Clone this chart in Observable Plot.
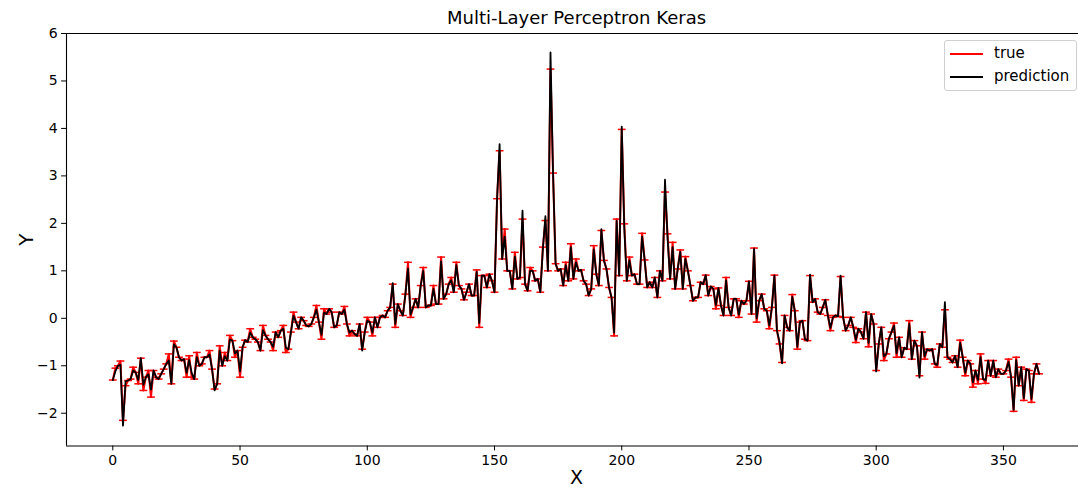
<!DOCTYPE html>
<html>
<head>
<meta charset="utf-8">
<script src="https://cdn.jsdelivr.net/npm/d3@7"></script>
<script src="https://cdn.jsdelivr.net/npm/@observablehq/plot@0.6"></script>
<style>
  html, body { margin: 0; padding: 0; background: #fff; }
  #wrap { position: relative; width: 1078px; height: 489px; font-family: "DejaVu Sans", sans-serif; }
  #legend { position: absolute; left: 944px; top: 40px; width: 131px; height: 49px;
    border: 1px solid #d0d0d0; border-radius: 3px; background: rgba(255,255,255,0.85);
    font-size: 15px; color: #000; box-sizing: content-box; }
  .row { height: 23px; line-height: 23px; display: flex; align-items: center; }
  .row:first-child { margin-top: 1px; }
  .sw { width: 33px; height: 2px; margin-left: 5px; margin-right: 11px; }
</style>
</head>
<body>
<div id="wrap">
  <div id="chart"></div>
  <div id="legend">
    <div class="row"><span class="sw" style="background:red"></span><span>true</span></div>
    <div class="row"><span class="sw" style="background:black"></span><span>prediction</span></div>
  </div>
</div>
<script>
const title = "Multi-Layer Perceptron Keras";
const xLabel = "X";
const yLabel = "Y";
const xTicks = [0, 50, 100, 150, 200, 250, 300, 350];
const yTicks = [-2, -1, 0, 1, 2, 3, 4, 5, 6];

// observed ("true") values, one per x = 0..364
const trueY = [
-1.30,-1.05,-1.00,-0.90,-2.15,-1.42,-1.31,-1.28,-1.03,-1.14,
-1.38,-0.84,-1.52,-1.24,-1.10,-1.66,-1.10,-1.24,-1.28,-1.17,
-1.07,-0.96,-0.75,-1.38,-0.48,-0.61,-0.82,-0.89,-0.86,-1.24,
-0.79,-1.24,-1.28,-0.72,-1.00,-0.96,-0.82,-0.82,-0.68,-1.07,
-1.49,-1.38,-0.58,-1.00,-0.72,-0.89,-0.36,-0.47,-0.82,-0.68,
-1.24,-0.61,-0.46,-0.50,-0.22,-0.40,-0.44,-0.50,-0.68,-0.15,
-0.36,-0.44,-0.50,-0.68,-0.29,-0.40,-0.26,-0.15,-0.72,-0.65,
-0.29,0.13,-0.08,-0.22,0.02,-0.05,-0.15,-0.17,-0.12,0.02,
0.27,-0.08,-0.44,0.20,0.09,0.20,0.13,-0.19,-0.15,0.13,
0.09,0.25,-0.12,-0.37,-0.26,-0.33,-0.37,-0.12,-0.65,-0.29,
0.02,-0.08,-0.37,0.02,-0.19,0.02,0.06,0.02,0.16,0.23,
0.72,-0.19,0.30,0.16,0.06,0.51,1.18,0.02,0.23,0.41,
0.23,0.69,1.07,0.23,0.27,0.27,0.69,0.30,0.30,1.29,
0.41,0.51,0.72,0.86,0.55,1.18,0.69,0.62,0.39,0.55,
0.72,0.48,0.48,1.02,-0.19,0.90,0.90,0.65,0.93,0.79,
0.55,2.52,3.53,1.25,1.88,1.00,1.00,0.62,1.39,0.83,
0.86,2.09,0.72,0.58,1.07,1.00,0.79,0.83,0.55,1.50,
2.06,1.00,5.25,3.06,1.15,1.00,1.04,0.69,1.18,0.79,
1.57,0.83,1.25,1.00,1.02,0.79,0.72,0.48,0.62,1.53,
0.93,0.69,1.85,1.22,1.04,0.65,0.44,-0.37,2.09,0.90,
3.98,1.99,0.79,1.29,0.90,0.93,0.72,0.72,1.79,1.23,
0.65,0.76,0.65,0.86,0.44,1.00,0.79,2.66,1.78,0.83,
1.60,0.62,1.04,1.44,0.62,1.30,1.00,0.69,0.37,0.44,
0.44,0.76,0.72,0.91,0.48,0.67,0.62,0.20,0.64,0.27,
0.06,0.86,0.23,0.06,0.41,0.41,0.02,0.37,0.30,0.37,
0.78,0.09,1.48,-0.08,0.37,0.51,0.20,0.16,-0.22,0.23,
0.91,-0.26,-0.54,-0.93,0.06,-0.19,-0.26,0.50,0.16,-0.65,
-0.08,-0.05,-0.44,-0.47,0.90,0.34,0.41,0.13,0.09,0.23,
0.39,0.06,-0.26,0.02,0.06,0.04,0.88,0.02,-0.26,-0.15,
0.02,-0.19,-0.51,-0.22,-0.29,-0.43,0.13,-0.60,0.09,-0.12,
-1.10,-0.54,-0.19,-0.89,-0.75,-0.43,-0.29,-0.10,-0.82,-0.40,
-0.82,-0.62,-0.65,-0.05,-0.86,-0.47,-0.58,-1.21,-0.29,-0.86,
-0.65,-0.68,-0.65,-0.96,-1.03,-0.54,-0.61,0.18,-0.82,-0.86,
-0.93,-0.79,-1.03,-0.46,-0.82,-1.21,-0.89,-0.96,-1.45,-1.10,
-1.38,-0.75,-1.28,-1.37,-0.89,-1.21,-0.89,-1.24,-1.07,-1.17,
-1.17,-1.10,-0.86,-1.24,-1.96,-0.82,-1.42,-1.03,-1.73,-1.07,
-1.10,-1.77,-1.17,-0.96,-1.17
];

// model predictions, one per x = 0..364
const predY = [
-1.30,-1.12,-1.00,-0.98,-2.26,-1.33,-1.31,-1.28,-1.10,-1.14,
-1.30,-0.84,-1.40,-1.24,-1.18,-1.50,-1.10,-1.24,-1.28,-1.17,
-1.07,-0.96,-0.89,-1.38,-0.55,-0.61,-0.82,-0.89,-0.86,-1.15,
-0.88,-1.15,-1.28,-0.82,-1.00,-0.96,-0.82,-0.82,-0.76,-1.07,
-1.52,-1.38,-0.68,-1.00,-0.80,-0.89,-0.45,-0.47,-0.74,-0.68,
-1.12,-0.61,-0.46,-0.50,-0.30,-0.40,-0.44,-0.50,-0.68,-0.25,
-0.36,-0.44,-0.50,-0.60,-0.29,-0.40,-0.26,-0.22,-0.62,-0.65,
-0.29,0.05,-0.08,-0.22,0.02,-0.05,-0.15,-0.17,-0.12,0.02,
0.18,-0.08,-0.35,0.12,0.09,0.20,0.13,-0.19,-0.15,0.13,
0.09,0.18,-0.12,-0.30,-0.26,-0.33,-0.37,-0.12,-0.68,-0.29,
-0.05,-0.08,-0.30,0.02,-0.19,0.02,0.06,0.02,0.16,0.23,
0.74,-0.12,0.30,0.16,0.06,0.51,1.05,0.08,0.23,0.41,
0.23,0.69,1.00,0.23,0.27,0.27,0.62,0.30,0.30,1.20,
0.41,0.51,0.72,0.80,0.55,1.12,0.69,0.62,0.39,0.55,
0.72,0.48,0.48,0.98,-0.10,0.90,0.90,0.65,0.93,0.79,
0.55,2.50,3.67,1.25,1.72,1.00,1.00,0.62,1.30,0.83,
0.86,2.27,0.72,0.58,1.00,1.00,0.79,0.83,0.55,1.45,
2.15,1.00,5.60,3.06,1.15,1.00,1.04,0.69,1.12,0.79,
1.50,0.83,1.18,1.00,1.02,0.79,0.72,0.48,0.62,1.45,
0.93,0.69,1.88,1.22,1.04,0.65,0.44,-0.30,2.05,0.90,
4.04,1.90,0.79,1.22,0.90,0.93,0.72,0.72,1.72,1.23,
0.65,0.76,0.65,0.86,0.44,1.00,0.79,2.92,1.70,0.83,
1.50,0.62,1.04,1.40,0.62,1.25,1.00,0.69,0.37,0.44,
0.44,0.76,0.72,0.91,0.48,0.67,0.62,0.28,0.64,0.27,
0.06,0.80,0.23,0.06,0.41,0.41,0.08,0.37,0.30,0.37,
0.78,0.09,1.46,0.00,0.37,0.51,0.20,0.16,-0.15,0.23,
0.90,-0.26,-0.50,-0.95,0.06,-0.19,-0.26,0.45,0.16,-0.60,
-0.08,-0.05,-0.44,-0.47,0.92,0.34,0.41,0.13,0.09,0.23,
0.39,0.06,-0.20,0.02,0.06,0.04,0.90,0.02,-0.26,-0.15,
0.02,-0.19,-0.45,-0.22,-0.29,-0.43,0.13,-0.52,0.09,-0.12,
-1.12,-0.54,-0.19,-0.80,-0.75,-0.43,-0.29,-0.16,-0.74,-0.40,
-0.82,-0.62,-0.65,-0.12,-0.86,-0.47,-0.58,-1.25,-0.29,-0.80,
-0.65,-0.68,-0.65,-0.96,-0.98,-0.54,-0.61,0.34,-0.82,-0.86,
-0.93,-0.79,-1.03,-0.52,-0.82,-1.15,-0.89,-0.96,-1.35,-1.10,
-1.30,-0.82,-1.28,-1.30,-0.89,-1.21,-0.89,-1.24,-1.07,-1.17,
-1.17,-1.10,-0.92,-1.24,-1.93,-0.88,-1.42,-1.03,-1.68,-1.07,
-1.10,-1.70,-1.17,-0.96,-1.17
];

const xDomain = [-18.2, 379.5];
const yDomain = [-2.69, 6.0];

const rows = trueY.map((v, i) => ({x: i, t: v, p: predY[i]}));

// horizontal-dash marker (matplotlib "_")
const hline = {
  draw(ctx, size) {
    const h = Math.sqrt(size / Math.PI);
    ctx.moveTo(-h, 0);
    ctx.lineTo(h, 0);
  }
};

const chart = Plot.plot({
  width: 1078,
  height: 489,
  marginLeft: 66,
  marginRight: 0,
  marginTop: 33,
  marginBottom: 43.5,
  style: {fontFamily: "DejaVu Sans, sans-serif", fontSize: "14px", color: "#000", background: "white"},
  x: {domain: xDomain},
  y: {domain: yDomain},
  marks: [
    Plot.axisX({ticks: xTicks, tickSize: 4.9, tickPadding: 4, fontSize: 14, label: null}),
    Plot.axisY({ticks: yTicks, tickSize: 4.9, tickPadding: 4, fontSize: 14, label: null}),
    Plot.ruleX([xDomain[0]], {stroke: "#000", strokeWidth: 1.1}),
    Plot.ruleY(yDomain, {stroke: "#000", strokeWidth: 1.1}),
    Plot.line(rows, {x: "x", y: "t", stroke: "red", strokeWidth: 2}),
    Plot.dot(rows, {x: "x", y: "t", symbol: hline, r: 3.9, stroke: "red", fill: "none", strokeWidth: 1.5}),
    Plot.line(rows, {x: "x", y: "p", stroke: "black", strokeWidth: 1.8}),
    Plot.text([title], {frameAnchor: "top", lineAnchor: "middle", dy: -15, dx: 4, fontSize: 18}),
    Plot.text([xLabel], {frameAnchor: "bottom", lineAnchor: "middle", dy: 32, dx: 4, fontSize: 19}),
    Plot.text([yLabel], {frameAnchor: "left", textAnchor: "middle", dx: -40, rotate: -90, fontSize: 20})
  ]
});
document.getElementById("chart").appendChild(chart);
</script>
</body>
</html>
